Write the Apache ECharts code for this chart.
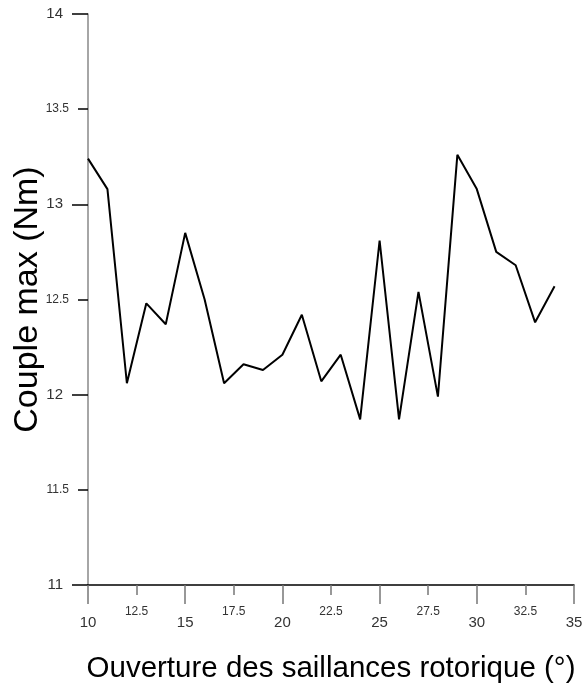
<!DOCTYPE html>
<html>
<head>
<meta charset="utf-8">
<script src="https://cdn.jsdelivr.net/npm/echarts@6/dist/echarts.min.js"></script>
<style>
  html, body { margin: 0; padding: 0; background: #fff; }
  #chart { width: 588px; height: 688px; }
</style>
</head>
<body>
<div id="chart"></div>
<script>
// Ouverture des saillances rotoriques (°) vs couple maximal (Nm)
const openings = [10, 11, 12, 13, 14, 15, 16, 17, 18, 19, 20, 21, 22, 23, 24, 25, 26, 27, 28, 29, 30, 31, 32, 33, 34];
const torqueMax = [13.24, 13.08, 12.06, 12.48, 12.37, 12.85, 12.50, 12.06, 12.16, 12.13, 12.21, 12.42, 12.07, 12.21, 11.87, 12.81, 11.87, 12.54, 11.99, 13.26, 13.08, 12.75, 12.68, 12.38, 12.57];

const xTitle = 'Ouverture des saillances rotorique (°)';
const yTitle = 'Couple max (Nm)';

const FONT = 'Liberation Sans, Arial, Helvetica, sans-serif';
const LABEL_COLOR = '#333';

const chart = echarts.init(document.getElementById('chart'), null, { renderer: 'canvas' });

const isMajorX = v => Math.abs(v % 5) < 1e-6;
const isMajorY = v => Math.abs(v % 1) < 1e-6;

const option = {
  animation: false,
  backgroundColor: '#fff',
  grid: { left: 88, right: 14, top: 14, bottom: 103, containLabel: false, outerBoundsMode: 'none' },
  xAxis: [
    {
      type: 'value', min: 10, max: 35, interval: 5,
      position: 'bottom',
      name: xTitle,
      nameLocation: 'middle',
      nameGap: 69,
      nameMoveOverlap: false,
      nameTextStyle: { fontFamily: FONT, fontSize: 29.5, color: '#000' },
      axisLine: { show: true, onZero: false, lineStyle: { color: '#000', width: 1.5 } },
      axisTick: { show: true, length: 19, lineStyle: { color: '#777', width: 1.5 } },
      axisLabel: { fontFamily: FONT, fontSize: 15, color: LABEL_COLOR, margin: 30 },
      splitLine: { show: false }
    },
    {
      type: 'value', min: 10, max: 35, interval: 2.5,
      position: 'bottom',
      axisLine: { show: false, onZero: false },
      axisTick: { show: true, length: 10, lineStyle: { color: '#777', width: 1.5 } },
      axisLabel: {
        fontFamily: FONT, fontSize: 12, color: LABEL_COLOR, margin: 21,
        formatter: v => isMajorX(v) ? '' : String(v)
      },
      splitLine: { show: false }
    }
  ],
  yAxis: [
    {
      type: 'value', min: 11, max: 14, interval: 1,
      position: 'left',
      name: yTitle,
      nameLocation: 'middle',
      nameGap: 43,
      nameMoveOverlap: false,
      nameTextStyle: { fontFamily: FONT, fontSize: 34, color: '#000' },
      axisLine: { show: true, onZero: false, lineStyle: { color: '#888', width: 1.5 } },
      axisTick: { show: true, length: 16, lineStyle: { color: '#000', width: 1.5 } },
      axisLabel: { fontFamily: FONT, fontSize: 15, color: LABEL_COLOR, margin: 25 },
      splitLine: { show: false }
    },
    {
      type: 'value', min: 11, max: 14, interval: 0.5,
      position: 'left',
      axisLine: { show: false, onZero: false },
      axisTick: { show: true, length: 10, lineStyle: { color: '#000', width: 1.5 } },
      axisLabel: {
        fontFamily: FONT, fontSize: 12, color: LABEL_COLOR, margin: 19,
        formatter: v => isMajorY(v) ? '' : String(v)
      },
      splitLine: { show: false }
    }
  ],
  series: [
    {
      type: 'line',
      xAxisIndex: 0,
      yAxisIndex: 0,
      data: openings.map((x, i) => [x, torqueMax[i]]),
      showSymbol: false,
      symbol: 'none',
      lineStyle: { color: '#000', width: 2 },
      z: 3
    }
  ]
};

chart.setOption(option);
</script>
</body>
</html>
